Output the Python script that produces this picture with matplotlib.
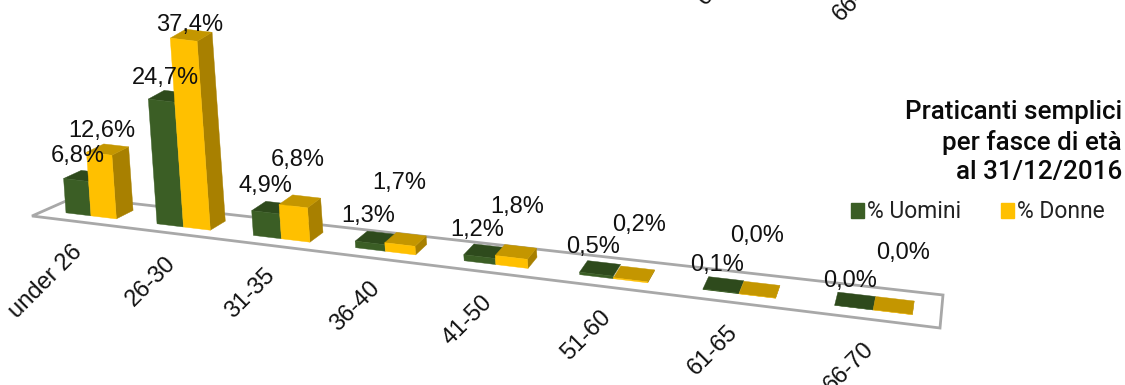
import numpy as np
import matplotlib
matplotlib.use("Agg")
import matplotlib.pyplot as plt
from matplotlib.patches import Patch

fasce = ["under 26", "26-30", "31-35", "36-40", "41-50", "51-60", "61-65", "66-70"]
uomini = [6.8, 24.7, 4.9, 1.3, 1.2, 0.5, 0.1, 0.0]
donne = [12.6, 37.4, 6.8, 1.7, 1.8, 0.2, 0.0, 0.0]
titolo = "Praticanti semplici\nper fasce di età\nal 31/12/2016"

# label offsets from the top of each bar, in px
off_u = [(2, -24), (4, -23), (0, -26), (-2, -27), (-2, -27), (-3, -27), (-4, -26), (-4, -27)]
off_d = [(3, -23), (6, -15), (4, -46), (-1, -61), (6, -50), (9, -55), (0, -60), (10, -59)]

GREEN = "#3b5e25"
GREEN_TOP = "#2e4a1c"
YELLOW = "#ffc000"
YELLOW_TOP = "#c49600"
YELLOW_SIDE = "#a88000"
LINE = "#a8a8a8"

# floor corners of the 3d box
FL = np.array([32.0, 216.0])
FR = np.array([940.0, 328.0])
BL = np.array([75.0, 197.0])
BR = np.array([943.0, 295.0])
PX_PER_PCT = 5.05
LEAN = -0.07
A, B = 0.0975, -0.0275


def proj(u, v, h=0.0):
    t = u * A / (1 + B * u)
    front = FL + t * (FR - FL)
    back = BL + t * (BR - BL)
    p = front + v * (back - front)
    dy = h * PX_PER_PCT
    return np.array([p[0] + LEAN * dy, p[1] - dy])


def draw_bar(ax, u0, u1, val, col, top, side=None, z=3):
    v0, v1 = 0.3, 0.72
    a, b = proj(u0, v0), proj(u1, v0)
    c, d = proj(u1, v0, val), proj(u0, v0, val)
    e, f = proj(u1, v1, val), proj(u0, v1, val)
    g = proj(u1, v1)
    if side is not None:
        ax.fill(*zip(b, g, e, c), color=side, lw=0.3, zorder=z)
    ax.fill(*zip(d, c, e, f), color=top, lw=0.3, zorder=z)
    ax.fill(*zip(a, b, c, d), color=col, lw=0.3, zorder=z)
    return (d + c) / 2


fig = plt.figure(figsize=(11.25, 3.85), dpi=100)
ax = fig.add_axes([0, 0, 1, 1])
ax.set_xlim(0, 1125)
ax.set_ylim(385, 0)
ax.axis("off")

ax.fill(*zip(FL, FR, BR, BL), facecolor="white", edgecolor=LINE, lw=2, zorder=1)

sans = "Liberation Sans"
for i, nome in enumerate(fasce):
    top_u = draw_bar(ax, i + 0.24, i + 0.52, uomini[i], GREEN, GREEN_TOP, z=3)
    top_d = draw_bar(ax, i + 0.52, i + 0.80, donne[i], YELLOW, YELLOW_TOP, YELLOW_SIDE, z=4)
    for val, top, off in ((uomini[i], top_u, off_u[i]), (donne[i], top_d, off_d[i])):
        testo = f"{val:.1f}%".replace(".", ",")
        ax.text(top[0] + off[0], top[1] + off[1], testo, ha="center", va="center",
                fontsize=17, family=sans, color="#111111", zorder=6)
    end = proj(i + 0.5, 0)
    ax.text(end[0] + 2, end[1] + 27, nome, rotation=45, rotation_mode="anchor",
            ha="right", va="center", fontsize=17, family=sans, color="#111111")

# axis labels of the panel above, cut by the top edge
for nome, x, y in (("61-65", 743, -41), ("66-70", 879, -25)):
    ax.text(x, y, nome, rotation=45, rotation_mode="anchor", ha="right", va="center",
            fontsize=17, family=sans, color="#111111", clip_on=True)

ax.text(1122, 142, titolo, ha="right", va="center", fontsize=18.7, family="Roboto",
        fontweight="medium", color="#0a0a0a", linespacing=1.3)

handles = [Patch(color=GREEN, label="% Uomini"), Patch(color=YELLOW, label="% Donne")]
ax.legend(handles=handles, ncol=2, frameon=False, loc="center right",
          bbox_to_anchor=(1105, 212), bbox_transform=ax.transData,
          prop={"family": "Roboto", "size": 16.5}, handlelength=0.58, handleheight=0.58,
          handletextpad=0.15, columnspacing=1.7, labelcolor="#222222", borderpad=0, borderaxespad=0)

fig.savefig("out.png", dpi=100)
